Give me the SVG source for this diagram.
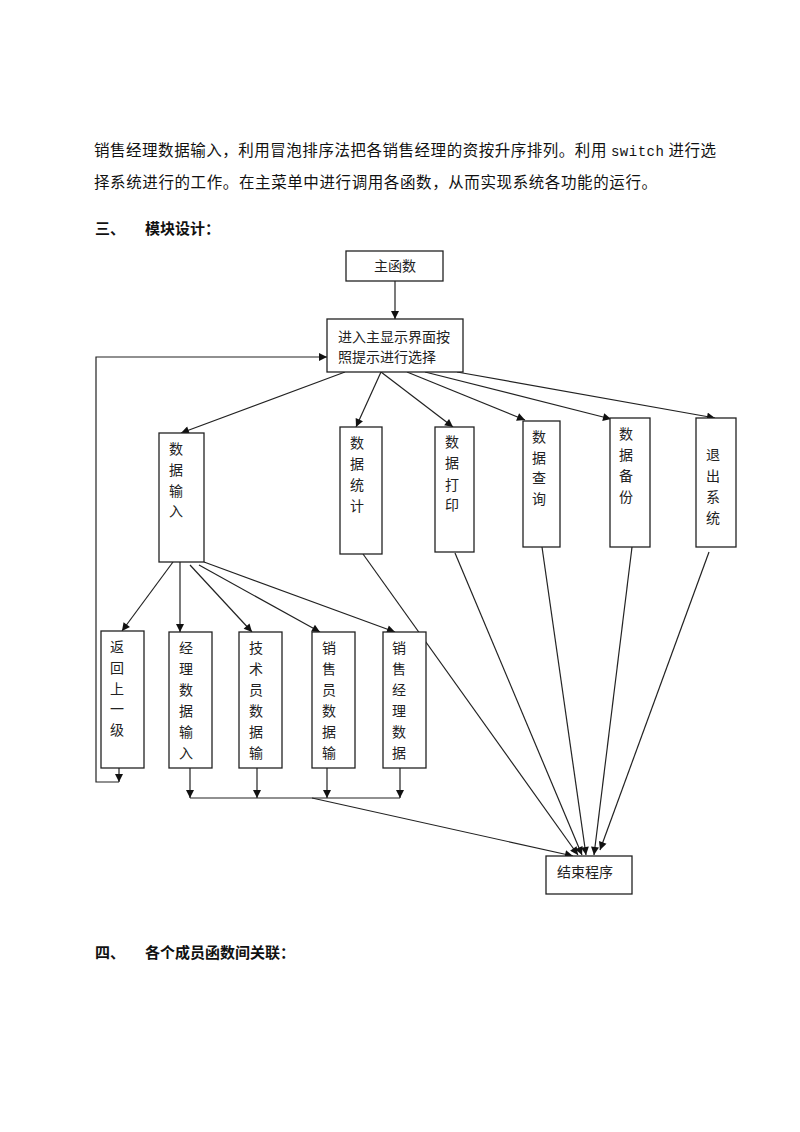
<svg xmlns="http://www.w3.org/2000/svg" width="800" height="1132" viewBox="0 0 800 1132">
<defs>
<marker id="ah" viewBox="0 0 10 10" refX="10" refY="5" markerWidth="9" markerHeight="8" markerUnits="userSpaceOnUse" orient="auto"><path d="M0,0 L10,5 L0,10 z" fill="#111"/></marker>
<style>
.box{fill:#fff;stroke:#222;stroke-width:1.3}
.t{font-family:"Noto Sans CJK SC","Noto Sans",sans-serif;font-size:14px;fill:#222}
.v{font-family:"Noto Sans CJK SC","Noto Sans",sans-serif;font-size:14px;fill:#222;text-anchor:middle}
.p{font-family:"Noto Sans CJK SC","Noto Sans",sans-serif;font-size:15.5px;fill:#111}
.m{font-family:"Liberation Mono",monospace;font-size:14px}
.h{font-family:"Noto Sans CJK SC","Noto Sans",sans-serif;font-size:15px;font-weight:bold;fill:#111}
.c{fill:none;stroke:#222;stroke-width:1.2}
.c path,.c line{marker-end:url(#ah)}
.c .n{marker-end:none}
</style>
</defs>
<rect width="800" height="1132" fill="#fff"/>
<text class="p" x="94" y="156" textLength="622" lengthAdjust="spacing">销售经理数据输入，利用冒泡排序法把各销售经理的资按升序排列。利用 <tspan class="m">switch</tspan> 进行选</text>
<text class="p" x="94" y="188" textLength="563" lengthAdjust="spacing">择系统进行的工作。在主菜单中进行调用各函数，从而实现系统各功能的运行。</text>
<text class="h" x="95" y="234">三、</text>
<text class="h" x="145" y="234">模块设计：</text>
<text class="h" x="95" y="958">四、</text>
<text class="h" x="145" y="958">各个成员函数间关联：</text>

<g class="c" id="connectors">
<line x1="395" y1="281" x2="395" y2="319"/>
<line x1="119" y1="768" x2="119" y2="782"/>
<path d="M119,782 H96 V357 H327"/>
<line x1="345" y1="372" x2="181" y2="433"/>
<line x1="381" y1="372" x2="356" y2="427"/>
<line x1="381" y1="372" x2="453" y2="427"/>
<line x1="407" y1="372" x2="525" y2="420"/>
<line x1="425" y1="372" x2="611" y2="419"/>
<line x1="457" y1="372" x2="715" y2="418"/>
<line x1="173" y1="562" x2="122" y2="631"/>
<line x1="180" y1="562" x2="180" y2="632"/>
<line x1="190" y1="565" x2="252" y2="632"/>
<line x1="199" y1="565" x2="320" y2="632"/>
<line x1="204" y1="562" x2="395" y2="632"/>
<line x1="190" y1="768" x2="190" y2="798"/>
<line x1="257" y1="768" x2="257" y2="798"/>
<line x1="327" y1="768" x2="327" y2="798"/>
<line x1="400" y1="768" x2="400" y2="798"/>
<line class="n" x1="190" y1="798" x2="400" y2="798"/>
<line x1="312" y1="798" x2="573" y2="856"/>
<line x1="363" y1="554" x2="578" y2="855"/>
<line x1="455" y1="553" x2="582" y2="855"/>
<line x1="542" y1="547" x2="586" y2="855"/>
<line x1="632" y1="547" x2="594" y2="855"/>
<line x1="709" y1="552" x2="600" y2="850"/>
</g>

<g id="main"><rect class="box" x="346" y="251" width="97" height="30"/><text class="v" x="395" y="271">主函数</text></g>
<g id="menu"><rect class="box" x="327" y="319" width="136" height="53"/><text class="t" x="338" y="342">进入主显示界面按</text><text class="t" x="338" y="362">照提示进行选择</text></g>

<g id="input"><rect class="box" x="159" y="433" width="45" height="129"/>
<text class="v" x="176" y="454">数</text><text class="v" x="176" y="475">据</text><text class="v" x="176" y="496">输</text><text class="v" x="176" y="516">入</text></g>
<g id="stat"><rect class="box" x="340" y="427" width="42" height="127"/>
<text class="v" x="357" y="448">数</text><text class="v" x="357" y="469">据</text><text class="v" x="357" y="490">统</text><text class="v" x="357" y="511">计</text></g>
<g id="print"><rect class="box" x="435" y="427" width="39" height="125"/>
<text class="v" x="452" y="447">数</text><text class="v" x="452" y="468">据</text><text class="v" x="452" y="490">打</text><text class="v" x="452" y="510">印</text></g>
<g id="query"><rect class="box" x="523" y="421" width="37" height="126"/>
<text class="v" x="539" y="442">数</text><text class="v" x="539" y="463">据</text><text class="v" x="539" y="483">查</text><text class="v" x="539" y="504">询</text></g>
<g id="backup"><rect class="box" x="610" y="418" width="40" height="129"/>
<text class="v" x="626" y="439">数</text><text class="v" x="626" y="460">据</text><text class="v" x="626" y="481">备</text><text class="v" x="626" y="502">份</text></g>
<g id="exit"><rect class="box" x="696" y="418" width="40" height="129"/>
<text class="v" x="713" y="460">退</text><text class="v" x="713" y="481">出</text><text class="v" x="713" y="502">系</text><text class="v" x="713" y="523">统</text></g>

<g id="back"><rect class="box" x="101" y="631" width="43" height="137"/>
<text class="v" x="117" y="652">返</text><text class="v" x="117" y="673">回</text><text class="v" x="117" y="694">上</text><text class="v" x="117" y="714">一</text><text class="v" x="117" y="735">级</text></g>
<g id="mgr"><rect class="box" x="169" y="632" width="43" height="136"/>
<text class="v" x="186" y="653">经</text><text class="v" x="186" y="674">理</text><text class="v" x="186" y="695">数</text><text class="v" x="186" y="716">据</text><text class="v" x="186" y="737">输</text><text class="v" x="186" y="758">入</text></g>
<g id="tech"><rect class="box" x="239" y="632" width="43" height="136"/>
<text class="v" x="256" y="653">技</text><text class="v" x="256" y="674">术</text><text class="v" x="256" y="695">员</text><text class="v" x="256" y="716">数</text><text class="v" x="256" y="737">据</text><text class="v" x="256" y="758">输</text></g>
<g id="sales"><rect class="box" x="312" y="632" width="43" height="136"/>
<text class="v" x="329" y="653">销</text><text class="v" x="329" y="674">售</text><text class="v" x="329" y="695">员</text><text class="v" x="329" y="716">数</text><text class="v" x="329" y="737">据</text><text class="v" x="329" y="758">输</text></g>
<g id="salesmgr"><rect class="box" x="383" y="632" width="43" height="136"/>
<text class="v" x="399" y="653">销</text><text class="v" x="399" y="674">售</text><text class="v" x="399" y="695">经</text><text class="v" x="399" y="716">理</text><text class="v" x="399" y="737">数</text><text class="v" x="399" y="758">据</text></g>

<g id="end"><rect class="box" x="546" y="856" width="86" height="38"/><text class="t" x="557" y="877">结束程序</text></g>
</svg>
